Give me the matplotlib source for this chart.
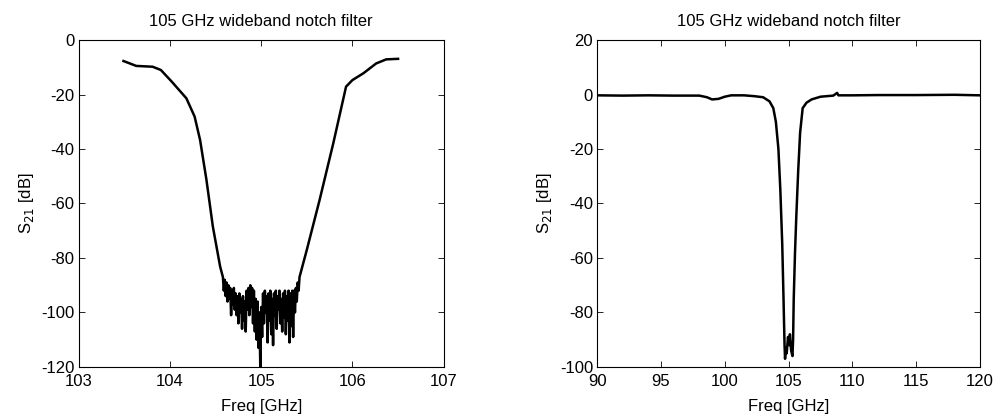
import matplotlib
matplotlib.use('Agg')
import matplotlib.pyplot as plt

plt.rcParams['font.family'] = ['Liberation Sans', 'DejaVu Sans']
plt.rcParams['font.size'] = 12
plt.rcParams['axes.unicode_minus'] = False  # matlab style hyphen

# ---- left panel: zoom on the notch (103-107 GHz) ----
freq_zoom_edges_lo = [103.49, 103.63, 103.81, 103.90, 104.02, 104.18, 104.27, 104.33,
                      104.40, 104.47, 104.55]
s21_zoom_edges_lo = [-7.7, -9.5, -9.8, -11.0, -15.3, -21.4, -28.1, -36.7,
                     -51.4, -68.5, -83.2]

freq_zoom_floor = [104.58, 104.59, 104.60, 104.61, 104.62, 104.63, 104.64, 104.65, 104.66, 104.67,
                   104.68, 104.69, 104.70, 104.71, 104.72, 104.73, 104.74, 104.75, 104.76, 104.77,
                   104.78, 104.79, 104.80, 104.81, 104.82, 104.83, 104.84, 104.85, 104.86, 104.87,
                   104.88, 104.89, 104.90, 104.91, 104.92, 104.93, 104.94, 104.95, 104.96, 104.97,
                   104.98, 104.99, 105.00, 105.01, 105.02, 105.03, 105.04, 105.05, 105.06, 105.07,
                   105.08, 105.09, 105.10, 105.11, 105.12, 105.13, 105.14, 105.15, 105.16, 105.17,
                   105.18, 105.19, 105.20, 105.21, 105.22, 105.23, 105.24, 105.25, 105.26, 105.27,
                   105.28, 105.29, 105.30, 105.31, 105.32, 105.33, 105.34, 105.35, 105.36, 105.37,
                   105.38, 105.39, 105.40, 105.41, 105.42]
s21_zoom_floor = [-87, -92, -88, -94, -89, -96, -90, -95, -91, -101,
                  -92, -97, -91, -99, -93, -101, -94, -104, -93, -100,
                  -95, -106, -94, -103, -96, -107, -92, -99, -91, -101,
                  -90, -98, -91, -104, -92, -107, -95, -110, -96, -113,
                  -100, -120, -98, -109, -93, -104, -92, -100, -94, -111,
                  -93, -103, -92, -108, -95, -112, -93, -101, -92, -106,
                  -94, -99, -92, -104, -95, -107, -93, -102, -92, -108,
                  -94, -103, -92, -111, -93, -105, -92, -109, -92, -100,
                  -91, -96, -89, -92, -87]

freq_zoom_edges_hi = [105.50, 105.64, 105.79, 105.93, 106.00, 106.12, 106.26, 106.37, 106.50]
s21_zoom_edges_hi = [-77.0, -58.7, -37.9, -17.1, -14.7, -12.2, -8.6, -7.1, -6.9]

# ---- right panel: wide sweep (90-120 GHz) ----
freq_wide = [90.0, 92.0, 94.0, 96.0, 98.0, 98.6, 99.0, 99.5, 100.0, 100.5, 101.5, 102.3,
             103.0, 103.5, 103.8, 104.0, 104.2, 104.35, 104.5, 104.6, 104.68, 104.72,
             104.78, 104.85, 104.95, 105.05, 105.1, 105.2, 105.3, 105.35, 105.4, 105.5,
             105.6, 105.75, 105.9, 106.1, 106.4, 106.8, 107.5, 108.5, 108.8, 108.9,
             110.0, 112.0, 115.0, 118.0, 120.0]
s21_wide = [-0.3, -0.4, -0.3, -0.4, -0.4, -1.0, -1.8, -1.6, -0.8, -0.3, -0.3, -0.6,
            -1.0, -2.5, -5.0, -10.0, -20.0, -35.0, -55.0, -75.0, -92.0, -97.0,
            -93.0, -95.0, -89.0, -92.0, -88.0, -94.0, -96.0, -90.0, -75.0, -58.0,
            -45.0, -28.0, -14.0, -5.0, -3.0, -1.8, -0.8, -0.4, 0.6, -0.3,
            -0.3, -0.2, -0.2, -0.1, -0.3]

freq_zoom = freq_zoom_edges_lo + freq_zoom_floor + freq_zoom_edges_hi
s21_zoom = s21_zoom_edges_lo + s21_zoom_floor + s21_zoom_edges_hi

title = '105 GHz wideband notch filter'

fig = plt.figure(figsize=(9.97, 4.17), dpi=100)
ax1 = fig.add_axes([0.079, 0.12, 0.366, 0.784])
ax2 = fig.add_axes([0.599, 0.12, 0.384, 0.784])

ax1.plot(freq_zoom, s21_zoom, color='black', linewidth=1.8)
ax1.set_xlim(103, 107)
ax1.set_ylim(-120, 0)
ax1.set_xticks([103, 104, 105, 106, 107])
ax1.set_yticks([-120, -100, -80, -60, -40, -20, 0])

ax2.plot(freq_wide, s21_wide, color='black', linewidth=1.8)
ax2.set_xlim(90, 120)
ax2.set_ylim(-100, 20)
ax2.set_xticks([90, 95, 100, 105, 110, 115, 120])
ax2.set_yticks([-100, -80, -60, -40, -20, 0, 20])

for ax in (ax1, ax2):
    ax.set_title(title, fontsize=12, pad=10)
    ax.set_xlabel('Freq [GHz]', labelpad=7)
    ax.set_ylabel('S$_{21}$ [dB]', labelpad=4)
    ax.tick_params(direction='in', top=True, right=True, length=4, width=0.6)
    ax.tick_params(axis='x', pad=5)
    ax.tick_params(axis='y', pad=3)
    for s in ax.spines.values():
        s.set_linewidth(0.8)

fig.savefig('out.png', dpi=100)
